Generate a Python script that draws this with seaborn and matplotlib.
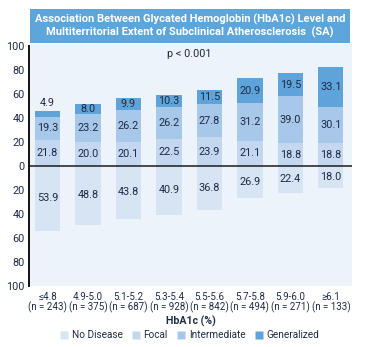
import matplotlib
matplotlib.use("Agg")
import matplotlib.pyplot as plt
from matplotlib.patches import Rectangle
import seaborn as sns
import numpy as np
import pandas as pd

categories = ["≤4.8\n(n = 243)", "4.9-5.0\n(n = 375)", "5.1-5.2\n(n = 687)", "5.3-5.4\n(n = 928)",
              "5.5-5.6\n(n = 842)", "5.7-5.8\n(n = 494)", "5.9-6.0\n(n = 271)", "≥6.1\n(n = 133)"]
no_disease = [53.9, 48.8, 43.8, 40.9, 36.8, 26.9, 22.4, 18.0]
focal = [21.8, 20.0, 20.1, 22.5, 23.9, 21.1, 18.8, 18.8]
intermediate = [19.3, 23.2, 26.2, 26.2, 27.8, 31.2, 39.0, 30.1]
generalized = [4.9, 8.0, 9.9, 10.3, 11.5, 20.9, 19.5, 33.1]
series_names = ["No Disease", "Focal", "Intermediate", "Generalized"]
colors = ["#D6E4F4", "#C3D8F0", "#A8C8EA", "#5EA3DA"]

sns.set_theme(style="white")
plt.rcParams["font.family"] = ["Roboto", "DejaVu Sans"]
txt = "#1E2B45"

fig = plt.figure(figsize=(3.72, 3.47), dpi=100)
W, H = 372, 347
ax = fig.add_axes([29 / W, (H - 286) / H, (352 - 29) / W, (286 - 44) / H])
ax.set_facecolor("#EDF3FB")

df = pd.DataFrame({"cat": categories, "nd": no_disease, "fo": focal,
                   "im": intermediate, "ge": generalized})
bw = 0.62
nd_neg = [-v for v in no_disease]
kw = dict(width=bw, saturation=1, ax=ax, linewidth=0, edgecolor="none")
sns.barplot(data=df.assign(neg=nd_neg), x="cat", y="neg", color=colors[0], **kw)
sns.barplot(data=df, x="cat", y="fo", color=colors[1], **kw)
b2 = np.array(focal)
sns.barplot(data=df, x="cat", y="im", bottom=b2, color=colors[2], **kw)
b3 = b2 + np.array(intermediate)
sns.barplot(data=df, x="cat", y="ge", bottom=b3, color=colors[3], **kw)

fs = 7.8
for i in range(len(categories)):
    ax.text(i, -no_disease[i] / 2, f"{no_disease[i]:.1f}", ha="center", va="center", fontsize=fs, color=txt)
    ax.text(i, focal[i] / 2, f"{focal[i]:.1f}", ha="center", va="center", fontsize=fs, color=txt)
    ax.text(i, b2[i] + intermediate[i] / 2, f"{intermediate[i]:.1f}", ha="center", va="center", fontsize=fs, color=txt)
    if generalized[i] < 6:
        ax.text(i, b3[i] + generalized[i] + 6, f"{generalized[i]:.1f}", ha="center", va="center", fontsize=fs, color=txt)
    else:
        ax.text(i, b3[i] + generalized[i] / 2, f"{generalized[i]:.1f}", ha="center", va="center", fontsize=fs, color=txt)

ax.axhline(0, color="#1a1a1a", lw=1.1, zorder=5)
ax.set_xlim(-0.457, 7.52)
ax.set_ylim(-100, 101.5)
yt = list(range(-100, 101, 20))
ax.set_yticks(yt)
ax.set_yticklabels([str(abs(v)) for v in yt], fontsize=7.8, color=txt)
ax.tick_params(axis="y", length=0, pad=3)
ax.tick_params(axis="x", length=0, pad=4)
for lab in ax.get_xticklabels():
    lab.set_linespacing(1.0)
    lab.set_fontsize(7.0)
    lab.set_color(txt)
for s in ["top", "right", "bottom"]:
    ax.spines[s].set_visible(False)
ax.spines["left"].set_color("#111111")
ax.spines["left"].set_linewidth(1.4)
ax.spines["left"].set_bounds(-100, 100)
ax.set_ylabel("")
ax.set_xlabel("HbA1c (%)", fontsize=7.6, fontweight="bold", color=txt, labelpad=2)

ax.text(3.5, 93, "p < 0.001", ha="center", va="center", fontsize=7.8, color=txt)

# title box
fig.patches.append(Rectangle((30 / W, (H - 43) / H), (350 - 30) / W, 34 / H,
                             transform=fig.transFigure, facecolor="#5DA6DB", edgecolor="none"))
fig.text(190 / W, (H - 26) / H,
         "Association Between Glycated Hemoglobin (HbA1c) Level and\nMultiterritorial Extent of Subclinical Atherosclerosis  (SA)",
         ha="center", va="center", fontsize=8.0, fontweight="bold", color="white", linespacing=1.25)

handles = [plt.Line2D([], [], marker="s", ls="", markersize=5.5, markerfacecolor=c, markeredgecolor="none")
           for c in colors]
fig.legend(handles, series_names, loc="center", bbox_to_anchor=(190 / W, (H - 335) / H), ncol=4,
           frameon=False, fontsize=7.2, handletextpad=0.4, handlelength=0.7, columnspacing=1.0,
           labelcolor=txt)

fig.savefig("out.png", dpi=100)
